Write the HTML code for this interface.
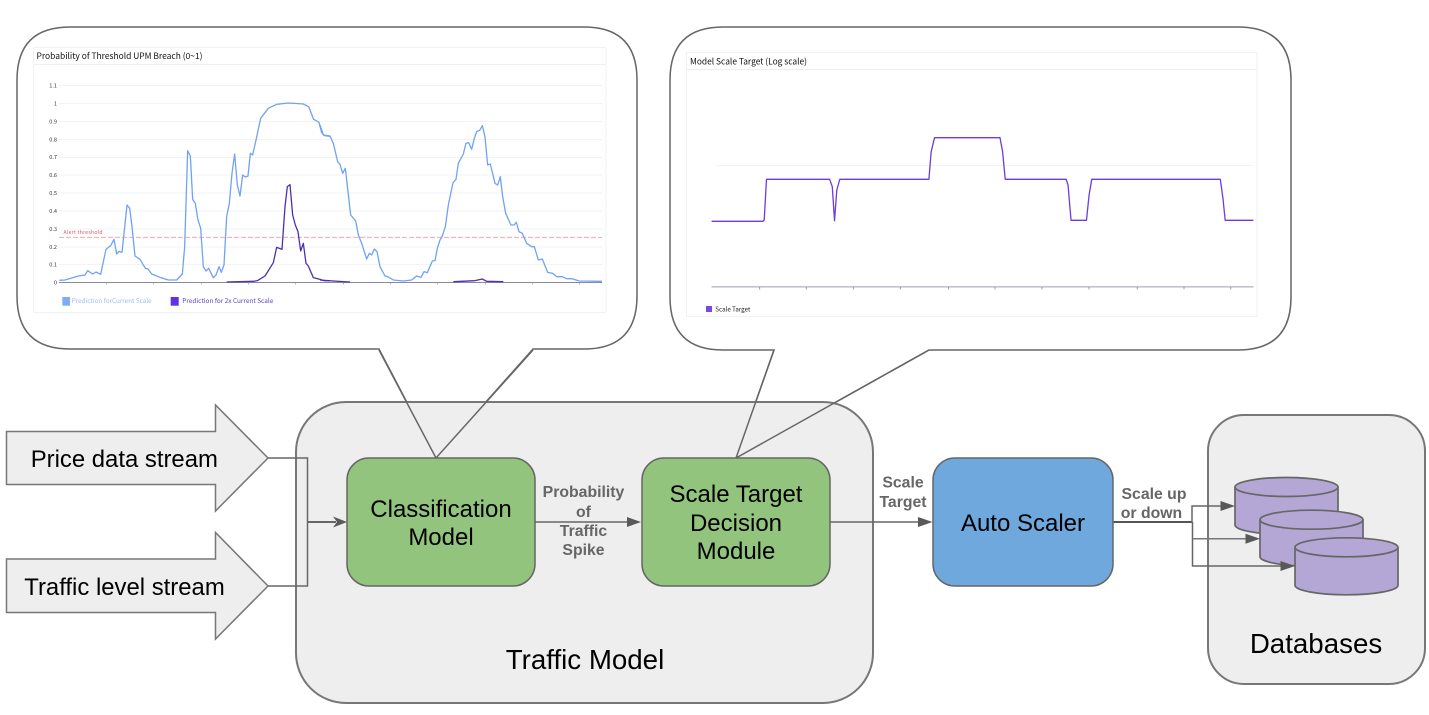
<!DOCTYPE html>
<html>
<head>
<meta charset="utf-8">
<style>
html,body{margin:0;padding:0;background:#fff;width:1429px;height:715px;overflow:hidden}
svg{display:block}
.big{font-family:"Liberation Sans",sans-serif;font-size:24px;fill:#000;text-anchor:middle}
.huge{font-family:"Liberation Sans",sans-serif;font-size:27.7px;fill:#000;text-anchor:middle}
.lab{font-family:"Liberation Sans",sans-serif;font-size:15.8px;font-weight:bold;fill:#666;text-anchor:middle}
.sm{font-family:"Noto Sans CJK JP","Liberation Sans",sans-serif}
</style>
</head>
<body>
<svg width="1429" height="715" viewBox="0 0 1429 715" xmlns="http://www.w3.org/2000/svg">
<defs>
<filter id="b" x="-5%" y="-5%" width="110%" height="110%"><feGaussianBlur stdDeviation="0.22"/></filter>
</defs>

<!-- callout bubbles -->
<path d="M70 27H584Q637 27 637 80V296Q637 349 584 349H533L436 458L379 349H70Q17 349 17 296V80Q17 27 70 27Z" fill="#fff" stroke="#666" stroke-width="1.5"/>
<path d="M723 27H1238Q1291 27 1291 80V297Q1291 350 1238 350H929L736 458L774 350H723Q670 350 670 297V80Q670 27 723 27Z" fill="#fff" stroke="#666" stroke-width="1.5"/>

<!-- chart 1 -->
<g filter="url(#b)">
<rect x="33.5" y="47.5" width="572.5" height="265" fill="#fff" stroke="#f0f1f4" stroke-width="1"/>
<line x1="33.5" y1="64.5" x2="606" y2="64.5" stroke="#eceef2"/>
<text class="sm" x="36.5" y="59" font-size="8.5" fill="#111" textLength="166" lengthAdjust="spacingAndGlyphs">Probability of Threshold UPM Breach (0~1)</text>
<g stroke="#f2f3f6" stroke-width="1">
<line x1="59" x2="602" y1="85.5" y2="85.5"/><line x1="59" x2="602" y1="103.5" y2="103.5"/>
<line x1="59" x2="602" y1="121.5" y2="121.5"/><line x1="59" x2="602" y1="139.5" y2="139.5"/>
<line x1="59" x2="602" y1="157.5" y2="157.5"/><line x1="59" x2="602" y1="175" y2="175"/>
<line x1="59" x2="602" y1="193" y2="193"/><line x1="59" x2="602" y1="211" y2="211"/>
<line x1="59" x2="602" y1="229" y2="229"/><line x1="59" x2="602" y1="247" y2="247"/>
<line x1="59" x2="602" y1="264.5" y2="264.5"/>
</g>
<g class="sm" font-size="5.6" fill="#333" text-anchor="end">
<text x="57" y="87.5">1.1</text><text x="57" y="105.3">1</text><text x="57" y="123.3">0.9</text>
<text x="57" y="141.3">0.8</text><text x="57" y="159.2">0.7</text><text x="57" y="177.2">0.6</text>
<text x="57" y="195">0.5</text><text x="57" y="213">0.4</text><text x="57" y="231">0.3</text>
<text x="57" y="249">0.2</text><text x="57" y="266.7">0.1</text><text x="57" y="284.6">0</text>
</g>
<line x1="59" y1="237.3" x2="602" y2="237.3" stroke="#f29aa5" stroke-width="0.9" stroke-dasharray="5 2"/>
<text class="sm" x="63.5" y="234" font-size="5" fill="#e8505f" textLength="39">Alert threshold</text>
<line x1="59" y1="282.5" x2="602" y2="282.5" stroke="#8a899c" stroke-width="1"/>
<path d="M106.7 282.5v2M153.7 282.5v2M201.3 282.5v2M248.7 282.5v2M295.7 282.5v2M343.3 282.5v2M390.7 282.5v2M437.3 282.5v2M485.7 282.5v2M532.7 282.5v2M579.3 282.5v2" stroke="#999" stroke-width="0.7" fill="none"/>

<g fill="none" stroke="#6fa2f5" stroke-width="1.3" stroke-linejoin="round">
<path transform="translate(20 40) scale(.33333)" vector-effect="non-scaling-stroke" d="M118 721L135 720L175 708L195 705L203 692L218 702L228 696L242 703L258 628L272 617L282 598L290 642L297 634L306 637L321 495L329 505L336 560L345 648L360 658L376 685L384 687L395 702L420 712L445 720L470 720L487 702L494 620L503 332L511 348L518 478L526 490L534 540L542 565L550 680L558 693L566 685L580 713L588 705L597 680L604 697L612 675L620 530L628 490L636 400L644 342L652 435L660 468L668 405L676 411L684 408L691 340L698 345L708 300L722 235L745 205L770 193L805 189L850 192L866 200L881 238L897 247L905 278L913 287L930 289"/>
<path transform="translate(320 40) scale(.33333)" vector-effect="non-scaling-stroke" d="M0 255L10 285L30 288L40 310L53 365L60 373L68 400L76 385L92 525L107 543L115 585L125 610L140 657L148 640L155 645L163 627L171 635L180 680L195 708L203 710L220 720L250 723L275 720L290 708L303 712L312 695L322 698L337 663L345 662L352 625L360 600L367 588L376 560L385 495L399 428L408 418L415 370L430 342L438 310L446 308L455 328L463 295L470 275L480 270L487 257L495 290L503 375L511 372L525 430L533 435L541 410L548 470L557 520L573 555L582 555L589 547L597 575L607 580L620 610L635 620L643 620L655 660L667 657L683 697L698 700L710 710L727 710L740 716L755 716L778 723L846 724"/>
</g>
<g fill="none" stroke="#4f2fb0" stroke-width="1.3" stroke-linejoin="round">
<path transform="translate(20 40) scale(.33333)" vector-effect="non-scaling-stroke" d="M620 726L700 724L712 722L735 708L760 668L770 622L786 628L795 500L802 440L810 434L818 525L826 555L834 575L842 633L850 610L858 670L865 678L880 713L900 718L912 722L930 722"/>
<path transform="translate(320 40) scale(.33333)" vector-effect="non-scaling-stroke" d="M0 720L40 723L90 726M400 725L465 722L487 717L500 724L550 725"/>
</g>
<rect x="62.3" y="297" width="7.7" height="8.7" fill="#7facf5"/>
<text class="sm" x="71.7" y="303.2" font-size="6.5" fill="#9dbdf6" textLength="80" lengthAdjust="spacingAndGlyphs">Prediction forCurrent Scale</text>
<rect x="170.7" y="297" width="8" height="8.7" fill="#5f30e8"/>
<text class="sm" x="182.3" y="303.2" font-size="6.5" fill="#5f42c0" textLength="91" lengthAdjust="spacingAndGlyphs">Prediction for 2x Current Scale</text>
</g>

<!-- chart 2 -->
<g filter="url(#b)">
<rect x="686.5" y="52.5" width="570.5" height="264" fill="#fff" stroke="#f0f1f4" stroke-width="1"/>
<line x1="686.5" y1="69.5" x2="1257" y2="69.5" stroke="#eceef2"/>
<text class="sm" x="690" y="64.3" font-size="8.5" fill="#111" textLength="117" lengthAdjust="spacingAndGlyphs">Model Scale Target (Log scale)</text>
<line x1="716.5" y1="165.5" x2="1253.5" y2="165.5" stroke="#f2f3f6"/>
<line x1="711.5" y1="286.8" x2="1253.5" y2="286.8" stroke="#b6b8c6" stroke-width="1.4"/>
<path d="M759.7 287v2.5M806.3 287v2.5M853.3 287v2.5M900.3 287v2.5M948.5 287v2.5M995 287v2.5M1042 287v2.5M1089 287v2.5M1137.2 287v2.5M1184 287v2.5M1230.8 287v2.5" stroke="#888" stroke-width="0.8" fill="none"/>
<path transform="matrix(.376 0 0 .33333 680 45)" vector-effect="non-scaling-stroke" fill="none" stroke="#6d3be0" stroke-width="1.3" stroke-linejoin="round" d="M84 529L220 529L224 525L230 403L398 403L405 425L411 527L417 435L425 403L662 403L668 320L677 278L851 278L858 320L865 403L1027 403L1032 420L1040 526L1081 526L1088 450L1095 403L1437 403L1444 460L1450 526L1525 526"/>
<rect x="706" y="306" width="6" height="6" fill="#7b4ae0"/>
<text class="sm" x="715.3" y="311.5" font-size="6.5" fill="#222" textLength="35" lengthAdjust="spacingAndGlyphs">Scale Target</text>
</g>

<!-- containers -->
<rect x="296" y="402" width="577" height="301" rx="50" ry="50" fill="#eeeeee" stroke="#777" stroke-width="2"/>
<rect x="1208" y="415" width="217" height="269" rx="36" ry="36" fill="#eeeeee" stroke="#777" stroke-width="2"/>

<!-- callout tails over the container -->
<path d="M379 350L436 458L533 350" fill="none" stroke="#666" stroke-width="1.5"/>
<path d="M774 350L736 458L929 350" fill="none" stroke="#666" stroke-width="1.5"/>

<!-- input arrows -->
<path d="M6.5 431.5H215.5V405L268 458L215.5 511V484.5H6.5Z" fill="#eeeeee" stroke="#777" stroke-width="1.5"/>
<path d="M6.5 559H215.5V532.5L268 586L215.5 639V612.5H6.5Z" fill="#eeeeee" stroke="#777" stroke-width="1.5"/>
<text class="big" x="124.3" y="467" style="font-size:23.9px">Price data stream</text>
<text class="big" x="124.5" y="595" style="font-size:23.9px">Traffic level stream</text>

<!-- connectors -->
<path d="M268 458H307.5V586H268" fill="none" stroke="#666" stroke-width="1.5"/>
<path d="M307.5 522H336" fill="none" stroke="#666" stroke-width="2"/>
<path d="M347 522L333 516.5L337 522L333 527.5Z" fill="#595959"/>
<path d="M535 522H630" fill="none" stroke="#666" stroke-width="1.5"/>
<path d="M641 522L627 517V527Z" fill="#595959"/>
<path d="M830 522H921" fill="none" stroke="#666" stroke-width="1.5"/>
<path d="M932.5 522L918 517V527Z" fill="#595959"/>
<path d="M1113 522H1192.5" fill="none" stroke="#555" stroke-width="2"/>
<path d="M1192 522V506H1222" fill="none" stroke="#666" stroke-width="1.5"/>
<path d="M1192.5 522V566H1283" fill="none" stroke="#666" stroke-width="1.5"/>
<path d="M1192.5 538.7H1247" fill="none" stroke="#777" stroke-width="1.5"/>

<!-- boxes -->
<rect x="347" y="458" width="188" height="128" rx="22" ry="22" fill="#93c47d" stroke="#666" stroke-width="1.5"/>
<rect x="642" y="458" width="188" height="128" rx="22" ry="22" fill="#93c47d" stroke="#666" stroke-width="1.5"/>
<rect x="933" y="458" width="180" height="128" rx="22" ry="22" fill="#6fa8dc" stroke="#666" stroke-width="1.5"/>

<text class="big" x="441" y="517">Classification</text>
<text class="big" x="441" y="545">Model</text>
<text class="big" x="736" y="502">Scale Target</text>
<text class="big" x="736" y="531">Decision</text>
<text class="big" x="736" y="559">Module</text>
<text class="big" x="1023" y="531">Auto Scaler</text>
<text class="huge" x="585" y="669">Traffic Model</text>
<text class="huge" x="1316" y="653">Databases</text>

<!-- edge labels -->
<text class="lab" x="583.5" y="497">Probability</text>
<text class="lab" x="583.5" y="517">of</text>
<text class="lab" x="583.5" y="536">Traffic</text>
<text class="lab" x="583.5" y="555">Spike</text>
<text class="lab" x="903" y="487.5">Scale</text>
<text class="lab" x="903" y="507">Target</text>
<text class="lab" x="1154" y="499">Scale up</text>
<text class="lab" x="1151.5" y="518">or down</text>

<!-- cylinders -->
<g fill="#b4a7d6" stroke="#666" stroke-width="1.7">
<path d="M1235 487V525A51.5 9.5 0 0 0 1338 525V487"/>
<ellipse cx="1286.5" cy="487" rx="51.5" ry="9.5"/>
<path d="M1260 519.7V556.7A51.5 9.5 0 0 0 1363 556.7V519.7"/>
<ellipse cx="1311.5" cy="519.7" rx="51.5" ry="9.5"/>
<path d="M1295 547.3V585.3A51.5 9.5 0 0 0 1398 585.3V547.3"/>
<ellipse cx="1346.5" cy="547.3" rx="51.5" ry="9.5"/>
</g>
<path d="M1235 506L1220.5 501V511Z" fill="#595959"/>
<path d="M1260 538.7L1245.5 533.7V543.7Z" fill="#595959"/>
<path d="M1295 566L1280.5 561V571Z" fill="#595959"/>
</svg>
</body>
</html>
